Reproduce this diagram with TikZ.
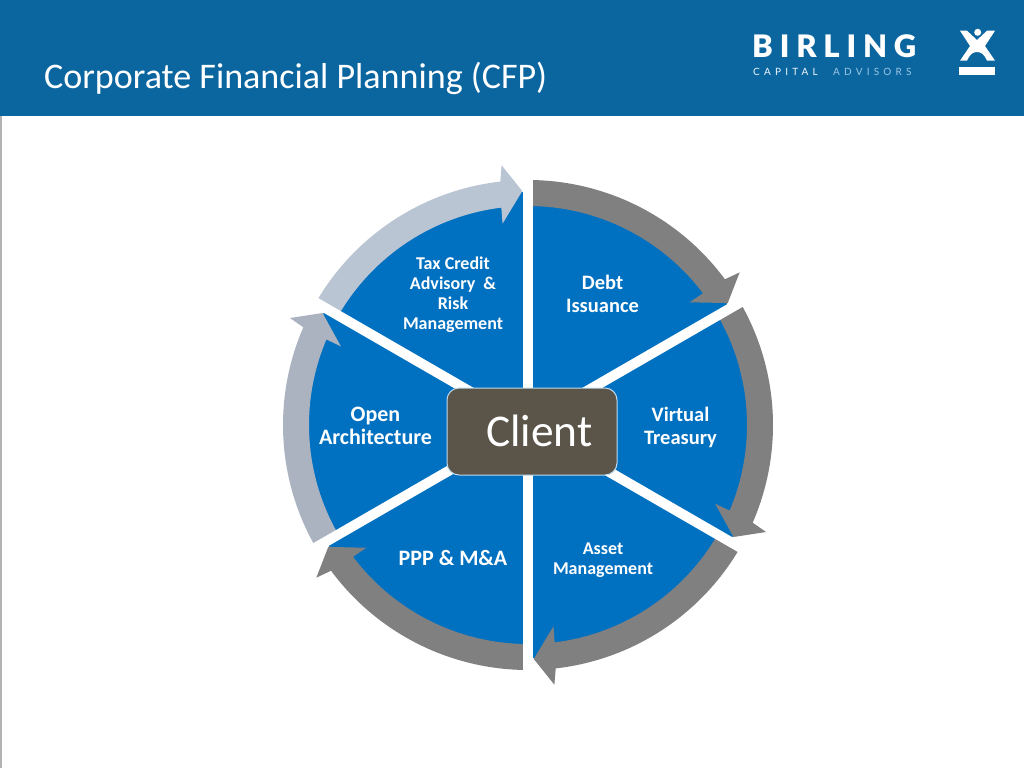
\documentclass[tikz,border=0pt]{standalone}
\usepackage{fontspec}
\setmainfont{Carlito}
\newfontfamily\logofont[LetterSpace=22]{Lato Black}
\newfontfamily\logosubfont[LetterSpace=42]{Lato}
\definecolor{headerblue}{HTML}{0B66A0}
\definecolor{segblue}{HTML}{0070C0}
\definecolor{clientgray}{HTML}{5B5549}
\definecolor{ringgray}{HTML}{808080}
\definecolor{ringmid}{HTML}{ABB3C1}
\definecolor{ringlight}{HTML}{BAC5D3}
\definecolor{subblue}{HTML}{9CC7E2}

\begin{document}
\begin{tikzpicture}[x=1pt,y=1pt,
        seglabel/.style={text=white, font=\fontsize{20.5}{23}\selectfont\bfseries, align=center, inner sep=0pt},
        seglabelwide/.style={text=white, font=\fontsize{22}{23}\selectfont\bfseries, align=center, inner sep=0pt},
        seglabelsmall/.style={text=white, font=\fontsize{18}{20}\selectfont\bfseries, align=center, inner sep=0pt},
        spoke/.style={draw=white, line width=10pt}]

    \useasboundingbox (0,0) rectangle (1024,-768);

    % header band
    \fill[headerblue] (0,0) rectangle (1024,-116);
    \fill[black!30] (0,-116) rectangle (1.5,-768);
    \node[anchor=west, text=white, inner sep=0pt, font=\fontsize{36.05}{40}\selectfont] (title) at (44,-78) {Corporate Financial Planning (CFP)};

    % logo
    \node[anchor=base west, text=white, inner sep=0pt, font=\fontsize{31}{34}\logofont] (birling) at (752,-58) {BIRLING};
    \node[anchor=base west, text=white!85!subblue, inner sep=0pt, font=\fontsize{10}{12}\logosubfont] (capital) at (753,-75) {CAPITAL};
    \node[anchor=base west, text=subblue, inner sep=0pt, font=\fontsize{10}{12}\logosubfont] (advisors) at (833,-75) {ADVISORS};
    \fill[white] (960,-30.7) -- (967,-30.7) -- (977,-40) -- (987,-30.7) -- (995,-30.7) -- (985,-46)
        -- (995,-60.7) -- (987,-60.7) .. controls (984,-54) and (981,-52) .. (977,-52)
        .. controls (973,-52) and (970,-54) .. (967,-60.7) -- (960,-60.7) -- (970,-46) -- cycle;
    \fill[white] (977.7,-32.3) circle[radius=3.5];
    \fill[white] (959.3,-66.7) rectangle (995,-75);

    % wheel
    \coordinate (c) at (528,-425);
    \fill[segblue] (c) circle[radius=233];

    \foreach \rot/\col in {0/ringgray, -60/ringgray, -120/ringgray, -180/ringgray, 120/ringmid, 60/ringlight}
        \fill[\col, shift={(c)}, rotate=\rot] (90:245) arc[start angle=90, end angle=36.5, radius=245]
            -- (35.8:261) -- (31.4:234) -- (37.2:203) -- (37:219)
            arc[start angle=37, end angle=90, radius=219] -- cycle;

    \foreach \a in {30,90,...,330} {
        \path (c) ++(\a:252) coordinate (rim\a);
        \draw[spoke] (c) -- (rim\a);
    }

    \node[seglabelsmall] (tax)  at (453,-295) {Tax Credit\\Advisory \ \&\\Risk\\Management};
    \node[seglabel]      (debt) at (602.5,-293.5) {Debt\\Issuance};
    \node[seglabel]      (virtual) at (680.5,-427) {Virtual\\Treasury};
    \node[seglabelsmall] (asset) at (603,-560) {Asset\\Management};
    \node[seglabelwide]  (ppp)  at (453,-558) {PPP \& M\&A};
    \node[seglabelwide]  (open) at (375.5,-426) {Open\\Architecture};

    \node[draw=white!75!segblue, line width=1pt, fill=clientgray, rounded corners=12pt, minimum width=170pt, minimum height=87pt,
        text=white, font=\fontsize{45.4}{48}\selectfont, inner sep=0pt] (client) at (532,-431.5) {\raisebox{1pt}{\hspace*{15pt}Client}};
\end{tikzpicture}
\end{document}
